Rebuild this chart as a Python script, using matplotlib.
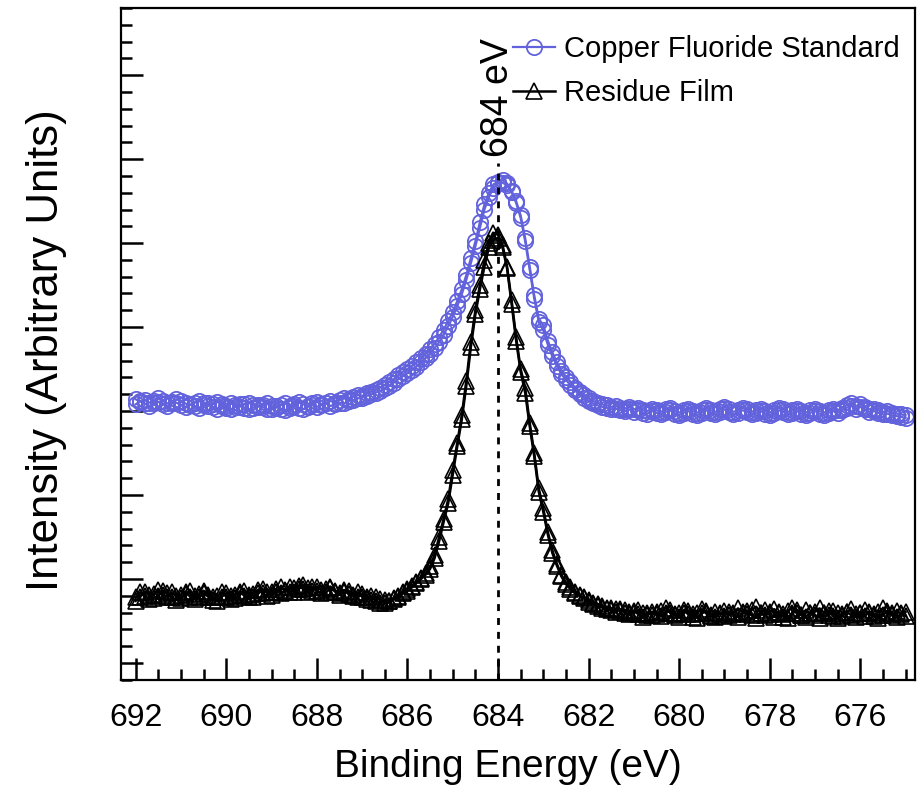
import numpy as np
import matplotlib
matplotlib.use("Agg")
import matplotlib.pyplot as plt
from matplotlib.ticker import MultipleLocator, NullFormatter

# binding energy grid, 692.0 -> 675.0 eV in 0.1 eV steps
energy = np.round(692.0 - 0.1 * np.arange(171), 1)

# Copper Fluoride Standard, two overlaid scans (arbitrary units)
standard_a = [
    3.14, 3.11, 3.13, 3.10, 3.12, 3.15, 3.12, 3.09, 3.11, 3.14,
    3.12, 3.09, 3.07, 3.10, 3.12, 3.09, 3.06, 3.08, 3.11, 3.08,
    3.06, 3.09, 3.07, 3.05, 3.08, 3.10, 3.07, 3.05, 3.07, 3.09,
    3.06, 3.04, 3.07, 3.09, 3.06, 3.08, 3.11, 3.08, 3.06, 3.09,
    3.11, 3.08, 3.10, 3.12, 3.10, 3.13, 3.15, 3.14, 3.17, 3.19,
    3.18, 3.21, 3.23, 3.25, 3.28, 3.31, 3.35, 3.38, 3.43, 3.47,
    3.50, 3.54, 3.58, 3.63, 3.68, 3.74, 3.80, 3.88, 3.97, 4.07,
    4.18, 4.31, 4.45, 4.62, 4.82, 5.02, 5.25, 5.46, 5.60, 5.70,
    5.73, 5.75, 5.71, 5.62, 5.50, 5.33, 5.06, 4.72, 4.38, 4.10,
    4.02, 3.84, 3.70, 3.58, 3.48, 3.41, 3.35, 3.28, 3.23, 3.19,
    3.15, 3.12, 3.10, 3.08, 3.07, 3.05, 3.06, 3.04, 3.03, 3.05,
    3.02, 3.04, 3.01, 3.00, 3.03, 3.01, 2.99, 3.02, 3.04, 3.00,
    2.98, 3.01, 3.03, 3.00, 2.98, 3.01, 3.04, 3.01, 2.99, 3.02,
    3.05, 3.02, 2.99, 3.01, 3.04, 3.02, 2.99, 3.01, 3.03, 3.00,
    2.98, 3.01, 3.04, 3.02, 2.99, 3.01, 3.03, 3.00, 2.98, 3.01,
    3.03, 3.00, 2.98, 3.01, 3.03, 3.01, 3.04, 3.07, 3.09, 3.06,
    3.08, 3.05, 3.02, 3.03, 3.01, 2.99, 3.00, 2.98, 2.97, 2.96,
    2.95,
]
standard_b = [
    3.08, 3.12, 3.09, 3.06, 3.09, 3.11, 3.08, 3.06, 3.09, 3.10,
    3.07, 3.05, 3.08, 3.06, 3.04, 3.07, 3.09, 3.05, 3.03, 3.06,
    3.04, 3.02, 3.05, 3.08, 3.04, 3.02, 3.04, 3.07, 3.05, 3.02,
    3.03, 3.06, 3.03, 3.01, 3.04, 3.06, 3.04, 3.02, 3.05, 3.07,
    3.05, 3.07, 3.09, 3.06, 3.08, 3.10, 3.09, 3.12, 3.13, 3.15,
    3.16, 3.18, 3.20, 3.22, 3.24, 3.27, 3.30, 3.34, 3.38, 3.42,
    3.45, 3.49, 3.53, 3.58, 3.63, 3.68, 3.75, 3.82, 3.91, 4.01,
    4.12, 4.25, 4.39, 4.56, 4.76, 4.96, 5.18, 5.40, 5.55, 5.66,
    5.71, 5.72, 5.69, 5.61, 5.48, 5.30, 5.02, 4.68, 4.34, 4.06,
    3.96, 3.79, 3.65, 3.54, 3.44, 3.37, 3.31, 3.25, 3.20, 3.16,
    3.12, 3.09, 3.07, 3.05, 3.04, 3.02, 3.03, 3.01, 3.00, 3.02,
    2.99, 3.01, 2.98, 2.97, 3.00, 2.98, 2.96, 2.99, 3.01, 2.97,
    2.95, 2.98, 3.00, 2.97, 2.95, 2.98, 3.01, 2.98, 2.96, 2.99,
    3.02, 2.99, 2.96, 2.98, 3.01, 2.99, 2.96, 2.98, 3.00, 2.97,
    2.95, 2.98, 3.01, 2.99, 2.96, 2.98, 3.00, 2.97, 2.95, 2.98,
    3.00, 2.97, 2.95, 2.98, 3.00, 2.98, 3.01, 3.04, 3.06, 3.03,
    3.05, 3.02, 2.99, 3.00, 2.98, 2.96, 2.97, 2.95, 2.94, 2.93,
    2.92,
]

# Residue Film, two overlaid scans (arbitrary units)
residue_a = [
    0.78, 0.84, 0.80, 0.76, 0.82, 0.87, 0.81, 0.79, 0.84, 0.80,
    0.77, 0.82, 0.86, 0.80, 0.78, 0.83, 0.79, 0.75, 0.80, 0.84,
    0.79, 0.76, 0.81, 0.85, 0.80, 0.78, 0.82, 0.87, 0.83, 0.80,
    0.84, 0.88, 0.83, 0.86, 0.90, 0.85, 0.88, 0.93, 0.89, 0.86,
    0.91, 0.87, 0.84, 0.89, 0.86, 0.83, 0.87, 0.82, 0.80, 0.84,
    0.79, 0.76, 0.80, 0.74, 0.72, 0.75, 0.74, 0.77, 0.80, 0.84,
    0.88, 0.92, 0.96, 1.01, 1.07, 1.15, 1.29, 1.50, 1.72, 1.95,
    2.30, 2.62, 2.95, 3.36, 3.82, 4.20, 4.50, 4.80, 5.00, 5.12,
    5.10, 4.98, 4.72, 4.32, 3.88, 3.50, 3.28, 2.86, 2.50, 2.08,
    1.84, 1.56, 1.34, 1.18, 1.05, 0.96, 0.90, 0.85, 0.81, 0.78,
    0.75, 0.72, 0.70, 0.68, 0.66, 0.65, 0.64, 0.62, 0.63, 0.61,
    0.60, 0.63, 0.59, 0.57, 0.61, 0.58, 0.62, 0.66, 0.60, 0.57,
    0.59, 0.63, 0.58, 0.55, 0.60, 0.64, 0.59, 0.56, 0.61, 0.58,
    0.62, 0.57, 0.60, 0.65, 0.61, 0.58, 0.63, 0.67, 0.60, 0.57,
    0.61, 0.64, 0.59, 0.55, 0.62, 0.66, 0.60, 0.57, 0.63, 0.59,
    0.61, 0.65, 0.60, 0.57, 0.62, 0.59, 0.56, 0.61, 0.64, 0.58,
    0.60, 0.63, 0.59, 0.56, 0.61, 0.65, 0.60, 0.57, 0.62, 0.59,
    0.61,
]
residue_b = [
    0.74, 0.79, 0.85, 0.81, 0.77, 0.80, 0.86, 0.83, 0.78, 0.75,
    0.81, 0.85, 0.79, 0.76, 0.82, 0.86, 0.81, 0.78, 0.74, 0.79,
    0.83, 0.80, 0.77, 0.82, 0.86, 0.81, 0.79, 0.83, 0.88, 0.84,
    0.81, 0.85, 0.90, 0.87, 0.84, 0.89, 0.92, 0.88, 0.85, 0.90,
    0.86, 0.83, 0.88, 0.91, 0.85, 0.81, 0.84, 0.86, 0.81, 0.78,
    0.82, 0.78, 0.75, 0.79, 0.76, 0.71, 0.74, 0.76, 0.79, 0.83,
    0.86, 0.90, 0.95, 1.00, 1.05, 1.12, 1.25, 1.45, 1.68, 1.90,
    2.24, 2.58, 2.90, 3.30, 3.76, 4.15, 4.45, 4.72, 4.95, 5.04,
    5.06, 4.95, 4.70, 4.28, 3.84, 3.47, 3.22, 2.82, 2.46, 2.04,
    1.80, 1.53, 1.31, 1.16, 1.03, 0.94, 0.88, 0.83, 0.80, 0.77,
    0.73, 0.70, 0.68, 0.66, 0.64, 0.63, 0.61, 0.64, 0.60, 0.58,
    0.62, 0.58, 0.55, 0.60, 0.57, 0.61, 0.56, 0.59, 0.63, 0.58,
    0.55, 0.60, 0.62, 0.58, 0.54, 0.59, 0.62, 0.57, 0.55, 0.60,
    0.56, 0.61, 0.58, 0.55, 0.59, 0.62, 0.57, 0.54, 0.60, 0.63,
    0.58, 0.55, 0.61, 0.58, 0.54, 0.59, 0.63, 0.57, 0.55, 0.60,
    0.57, 0.54, 0.59, 0.62, 0.56, 0.53, 0.58, 0.61, 0.57, 0.55,
    0.59, 0.56, 0.61, 0.58, 0.54, 0.57, 0.62, 0.59, 0.55, 0.58,
    0.56,
]

peak_ev = 684
peak_label = "684 eV"
xticks = [692, 690, 688, 686, 684, 682, 680, 678, 676]

blue = "#6262dc"
font = ["Liberation Sans", "DejaVu Sans"]

fig = plt.figure(figsize=(9.22, 7.96), dpi=100)
ax = fig.add_axes([0.131, 0.146, 0.861, 0.844])

# standard spectra
ax.plot(energy, standard_a, color=blue, lw=1.6, marker="o", ms=11,
        mfc="none", mec=blue, mew=1.3, label="Copper Fluoride Standard")
ax.plot(energy, standard_b, color=blue, lw=1.6, marker="o", ms=11,
        mfc="none", mec=blue, mew=1.3)

# residue film spectra
ax.plot(energy, residue_a, color="black", lw=1.8, marker="^", ms=11,
        mfc="none", mec="black", mew=1.2, label="Residue Film")
ax.plot(energy, residue_b, color="black", lw=1.8, marker="^", ms=11,
        mfc="none", mec="black", mew=1.2)

# peak marker
ax.vlines(peak_ev, -0.2, 5.95, colors="black", linestyles=(0, (2.5, 2.5)), lw=2)
ax.text(peak_ev, 6.02, peak_label, rotation=90, ha="center", va="bottom",
        fontsize=27, family=font)

ax.set_xlim(692.33, 674.8)
ax.set_ylim(-0.2, 7.8)

ax.set_xticks(xticks)
ax.xaxis.set_minor_locator(MultipleLocator(0.5))
ax.yaxis.set_major_locator(MultipleLocator(1))
ax.yaxis.set_minor_locator(MultipleLocator(0.2))
ax.yaxis.set_major_formatter(NullFormatter())

ax.tick_params(which="both", direction="in", top=False, right=False, width=1.8)
ax.tick_params(which="major", length=16)
ax.tick_params(which="minor", length=8)
ax.tick_params(axis="x", which="major", pad=17)
for lab in ax.get_xticklabels():
    lab.set_family(font)
    lab.set_fontsize(23)

for sp in ax.spines.values():
    sp.set_linewidth(1.6)

ax.set_xlabel("Binding Energy (eV)", fontsize=28, family=font)
ax.xaxis.set_label_coords(0.488, -0.103)
ax.set_ylabel("Intensity (Arbitrary Units)", fontsize=31.5, family=font)
ax.yaxis.set_label_coords(-0.068, 0.491)

ax.legend(loc="upper left", bbox_to_anchor=(0.494, 0.96), frameon=False,
          prop={"family": font, "size": 21}, handlelength=1.45,
          handletextpad=0.3, labelspacing=0.55, borderpad=0, borderaxespad=0)

fig.savefig("out.png", dpi=100)
